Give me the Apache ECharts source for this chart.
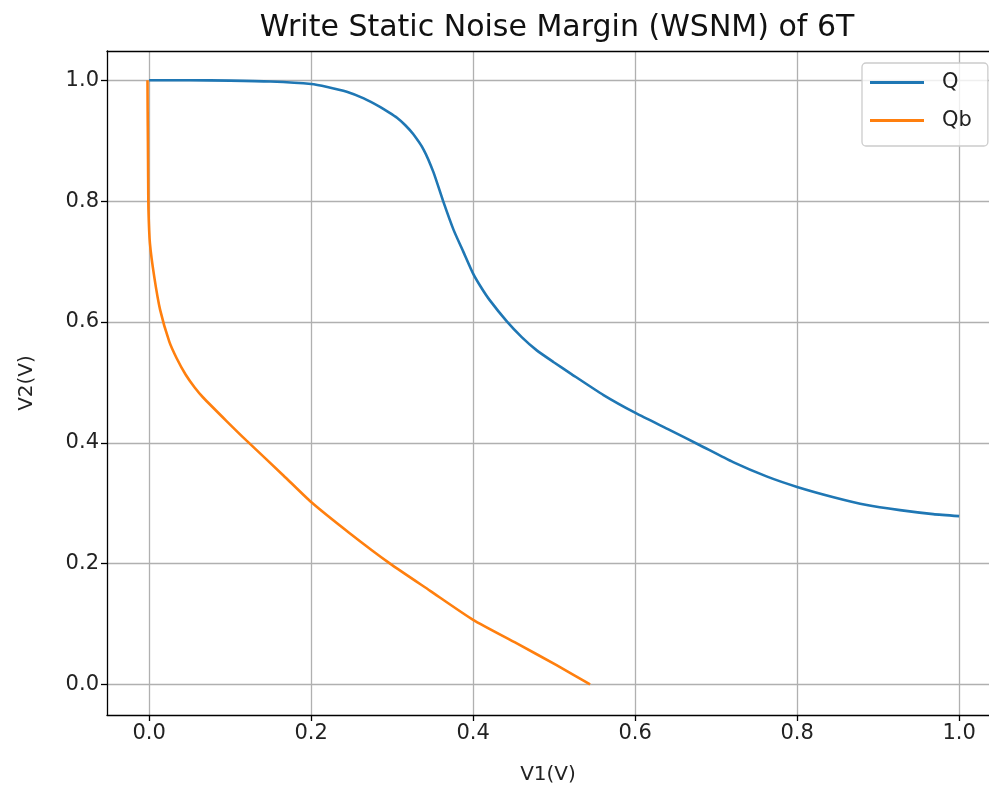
<!DOCTYPE html>
<html>
<head>
<meta charset="utf-8">
<title>WSNM of 6T</title>
<script src="https://cdn.jsdelivr.net/npm/echarts@6/dist/echarts.min.js"></script>
<style>
  html, body { margin: 0; padding: 0; background: #fff; }
  #chart { width: 989px; height: 793px; }
</style>
</head>
<body>
<div id="chart"></div>
<script>
// 曲线数据 (V1, V2)
var qX = [0, 0.05, 0.1, 0.15, 0.2, 0.22, 0.244, 0.265, 0.285, 0.296, 0.306, 0.316, 0.326, 0.339, 0.351,
  0.363, 0.376, 0.388, 0.400, 0.410, 0.420, 0.4416, 0.46, 0.4786, 0.50, 0.520, 0.561, 0.601, 0.643,
  0.680, 0.721, 0.763, 0.80, 0.845, 0.886, 0.927, 0.968, 1.0];
var qY = [1.0, 1.0, 0.9995, 0.998, 0.994, 0.989, 0.981, 0.970, 0.956, 0.947, 0.938, 0.926, 0.911, 0.885, 0.848,
  0.800, 0.752, 0.716, 0.680, 0.657, 0.637, 0.601, 0.575, 0.553, 0.533, 0.515, 0.479, 0.449, 0.421,
  0.396, 0.368, 0.344, 0.327, 0.310, 0.297, 0.2886, 0.282, 0.2787];

var qbX = [-0.002, -0.0018, -0.0015, -0.0012, -0.0008, 0.001, 0.0063, 0.0136, 0.025, 0.034, 0.045, 0.056,
  0.0667, 0.0956, 0.12, 0.1658, 0.200, 0.248, 0.2975, 0.347, 0.400, 0.454, 0.503, 0.5444];
var qbY = [1.0, 0.95, 0.9, 0.84, 0.785, 0.73, 0.675, 0.62, 0.567, 0.540, 0.513, 0.492,
  0.475, 0.436, 0.404, 0.346, 0.302, 0.250, 0.200, 0.155, 0.107, 0.068, 0.032, 0.0];

var xTicks = [0.0, 0.2, 0.4, 0.6, 0.8, 1.0];
var yTicks = [0.0, 0.2, 0.4, 0.6, 0.8, 1.0];

function pairs(xs, ys) {
  return xs.map(function (x, i) { return [x, ys[i]]; });
}

var FONT = 'DejaVu Sans';
var chart = echarts.init(document.getElementById('chart'));

function valueAxis(ticks, extra) {
  return Object.assign({
    type: 'value',
    axisLine: { show: true, onZero: false, lineStyle: { color: '#000', width: 1.3 } },
    axisTick: { show: true, length: 6, customValues: ticks, lineStyle: { color: '#000', width: 1.3 } },
    axisLabel: {
      color: '#222', fontFamily: FONT, fontSize: 21, customValues: ticks,
      formatter: function (v) { return v.toFixed(1); }
    },
    splitLine: { show: true, lineStyle: { color: '#b0b0b0', width: 1.3 } },
    nameTextStyle: { color: '#222', fontFamily: FONT, fontSize: 20 }
  }, extra);
}

var option = {
  animation: false,
  backgroundColor: '#fff',
  color: ['#1f77b4', '#ff7f0e'],
  title: {
    text: 'Write Static Noise Margin (WSNM) of 6T',
    left: 552, top: 8, textAlign: 'center',
    textStyle: { fontFamily: FONT, fontSize: 30, fontWeight: 'normal', color: '#111' }
  },
  legend: {
    orient: 'vertical',
    left: 862, top: 63,
    icon: 'rect',
    itemWidth: 54, itemHeight: 3,
    itemGap: 17,
    padding: [9, 16, 15, 8],
    backgroundColor: 'rgba(255,255,255,0.8)',
    borderColor: '#cccccc', borderWidth: 1.3, borderRadius: 4,
    textStyle: { fontFamily: FONT, fontSize: 21, color: '#222', lineHeight: 21, padding: [0, 0, 0, 13] },
    data: ['Q', 'Qb']
  },
  grid: { left: 107, right: 0, top: 51, bottom: 78 },
  xAxis: [
    valueAxis(xTicks, {
      min: -0.052, max: 1.0369,
      name: 'V1(V)', nameLocation: 'middle', nameGap: 50
    }),
    {
      type: 'value', position: 'top', min: -0.052, max: 1.0369,
      axisLine: { show: true, onZero: false, lineStyle: { color: '#000', width: 1.3 } },
      axisTick: { show: false }, axisLabel: { show: false }, splitLine: { show: false }
    }
  ],
  yAxis: valueAxis(yTicks, {
    min: -0.0505, max: 1.0485,
    name: 'V2(V)', nameLocation: 'middle', nameGap: 70
  }),
  series: [
    {
      name: 'Q', type: 'line', data: pairs(qX, qY),
      showSymbol: false, smooth: 0.2, lineStyle: { width: 2.6 }
    },
    {
      name: 'Qb', type: 'line', data: pairs(qbX, qbY),
      showSymbol: false, smooth: 0.2, lineStyle: { width: 2.6 }
    }
  ]
};

chart.setOption(option);
</script>
</body>
</html>
